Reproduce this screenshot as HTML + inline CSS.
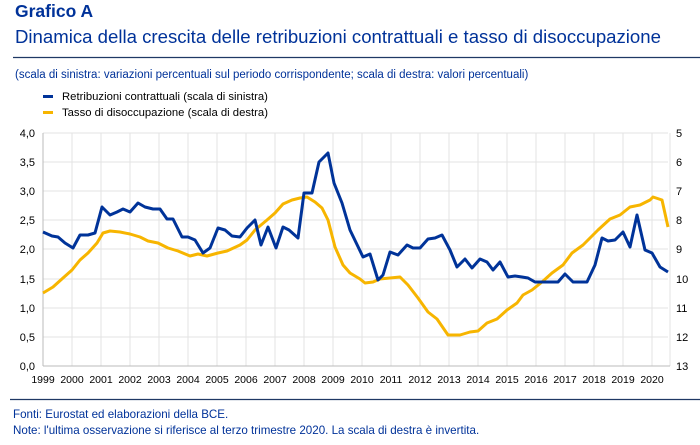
<!DOCTYPE html>
<html><head><meta charset="utf-8"><style>
body{margin:0;width:700px;height:440px;background:#fff;overflow:hidden}
text{font-family:"Liberation Sans",Arial,sans-serif}
</style></head><body>
<svg width="700" height="440" xmlns="http://www.w3.org/2000/svg">
<text x="15" y="17" font-size="17.5" font-weight="bold" fill="#003299">Grafico A</text>
<text x="15" y="43" font-size="18.6" fill="#003299">Dinamica della crescita delle retribuzioni contrattuali e tasso di disoccupazione</text>
<line x1="13" y1="57.5" x2="700" y2="57.5" stroke="#1f3864" stroke-width="1.3"/>
<text x="15" y="78" font-size="11.5" fill="#003299">(scala di sinistra: variazioni percentuali sul periodo corrispondente; scala di destra: valori percentuali)</text>
<rect x="43" y="95" width="10" height="3" fill="#003399"/>
<rect x="43" y="111" width="10" height="3" fill="#f7b500"/>
<text x="62" y="100" font-size="11.3" fill="#000">Retribuzioni contrattuali (scala di sinistra)</text>
<text x="62" y="116" font-size="11.3" fill="#000">Tasso di disoccupazione (scala di destra)</text>
<g stroke="#e3e3e3" stroke-width="1">
<line x1="43" y1="133" x2="668" y2="133"/><line x1="43" y1="162" x2="668" y2="162"/><line x1="43" y1="191" x2="668" y2="191"/><line x1="43" y1="220" x2="668" y2="220"/><line x1="43" y1="249" x2="668" y2="249"/><line x1="43" y1="279" x2="668" y2="279"/><line x1="43" y1="308" x2="668" y2="308"/><line x1="43" y1="337" x2="668" y2="337"/>
<line x1="72" y1="133" x2="72" y2="366"/><line x1="101" y1="133" x2="101" y2="366"/><line x1="130" y1="133" x2="130" y2="366"/><line x1="159" y1="133" x2="159" y2="366"/><line x1="188" y1="133" x2="188" y2="366"/><line x1="217" y1="133" x2="217" y2="366"/><line x1="246" y1="133" x2="246" y2="366"/><line x1="275" y1="133" x2="275" y2="366"/><line x1="304" y1="133" x2="304" y2="366"/><line x1="333" y1="133" x2="333" y2="366"/><line x1="362" y1="133" x2="362" y2="366"/><line x1="391" y1="133" x2="391" y2="366"/><line x1="420" y1="133" x2="420" y2="366"/><line x1="449" y1="133" x2="449" y2="366"/><line x1="478" y1="133" x2="478" y2="366"/><line x1="507" y1="133" x2="507" y2="366"/><line x1="536" y1="133" x2="536" y2="366"/><line x1="565" y1="133" x2="565" y2="366"/><line x1="594" y1="133" x2="594" y2="366"/><line x1="623" y1="133" x2="623" y2="366"/><line x1="652" y1="133" x2="652" y2="366"/><line x1="670" y1="133" x2="670" y2="366"/>
</g>
<line x1="43" y1="133" x2="43" y2="366" stroke="#bbb"/>
<line x1="43" y1="366" x2="670" y2="366" stroke="#bbb"/>
<g font-size="11" fill="#000" text-anchor="end">
<text x="35" y="137">4,0</text><text x="35" y="166">3,5</text><text x="35" y="195">3,0</text><text x="35" y="224">2,5</text><text x="35" y="253">2,0</text><text x="35" y="283">1,5</text><text x="35" y="312">1,0</text><text x="35" y="341">0,5</text><text x="35" y="370">0,0</text>
</g>
<g font-size="11" fill="#000">
<text x="676" y="137">5</text><text x="676" y="166">6</text><text x="676" y="195">7</text><text x="676" y="224">8</text><text x="676" y="253">9</text><text x="676" y="283">10</text><text x="676" y="312">11</text><text x="676" y="341">12</text><text x="676" y="370">13</text>
</g>
<g font-size="10.5" fill="#000" text-anchor="middle">
<text x="43" y="383">1999</text><text x="72" y="383">2000</text><text x="101" y="383">2001</text><text x="130" y="383">2002</text><text x="159" y="383">2003</text><text x="188" y="383">2004</text><text x="217" y="383">2005</text><text x="246" y="383">2006</text><text x="275" y="383">2007</text><text x="304" y="383">2008</text><text x="333" y="383">2009</text><text x="362" y="383">2010</text><text x="391" y="383">2011</text><text x="420" y="383">2012</text><text x="449" y="383">2013</text><text x="478" y="383">2014</text><text x="507" y="383">2015</text><text x="536" y="383">2016</text><text x="565" y="383">2017</text><text x="594" y="383">2018</text><text x="623" y="383">2019</text><text x="652" y="383">2020</text>
</g>
<polyline fill="none" stroke="#f7b500" stroke-width="3" stroke-linejoin="round" points="43,293 53,287 63,278 72,270 80,260 88,253 97,243 103,233 110,231 120,232 130,234 140,237 148,241 158,243 168,248 178,251 190,256 198,254 207,256 218,253 227,251 240,245 247,240 255,230 267,220 275,213 283,204 292,200 300,198 307,197 315,202 322,208 328,220 335,247 343,265 350,273 360,279 365,283 373,282 380,279 390,278 400,277 408,285 418,298 428,312 437,319 448,335 460,335 470,332 478,331 487,323 497,319 507,310 517,303 523,295 532,290 542,282 552,273 563,265 572,253 583,245 590,238 598,230 610,219 620,215 630,207 640,205 650,200 653,197 662,200 668,227"/>
<polyline fill="none" stroke="#003399" stroke-width="3" stroke-linejoin="round" points="43,232 52,236 58,237 65,243 73,248 80,235 88,235 95,233 102,207 110,215 117,212 123,209 130,212 138,203 145,207 153,209 160,209 167,219 173,219 182,237 188,237 195,240 203,253 210,248 218,228 225,230 232,236 240,237 247,228 255,220 261,245 268,227 276,248 283,227 289,230 298,238 304,193 312,193 319,162 328,153 334,183 342,203 350,230 363,257 370,254 378,280 383,275 390,252 398,255 407,245 413,248 420,248 428,239 435,238 442,235 450,250 457,267 465,259 472,268 480,259 487,262 493,270 500,262 508,277 515,276 522,277 528,278 535,282 543,282 550,282 558,282 565,274 573,282 580,282 587,282 595,265 602,238 608,241 615,240 623,232 630,247 637,215 645,250 652,253 660,267 668,272"/>
<line x1="10" y1="399.5" x2="700" y2="399.5" stroke="#1f3864" stroke-width="1.3"/>
<text x="13" y="418" font-size="11.6" fill="#003299">Fonti: Eurostat ed elaborazioni della BCE.</text>
<text x="13" y="434" font-size="11.6" fill="#003299">Note: l'ultima osservazione si riferisce al terzo trimestre 2020. La scala di destra è invertita.</text>
</svg>
</body></html>
